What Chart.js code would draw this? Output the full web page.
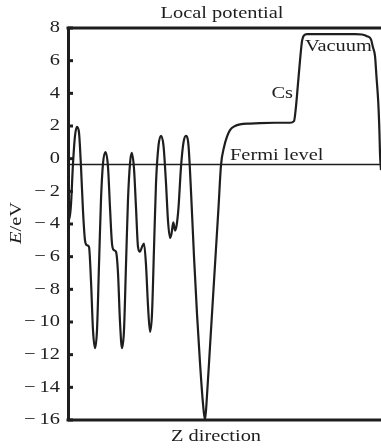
<!DOCTYPE html>
<html>
<head>
<meta charset="utf-8">
<script src="https://cdn.jsdelivr.net/npm/chart.js@4.4.1/dist/chart.umd.min.js"></script>
<style>
  html, body { margin: 0; padding: 0; background: #fff; }
  #wrap { width: 381px; height: 448px; position: relative; }
</style>
</head>
<body>
<div id="wrap"><canvas id="chart"></canvas></div>
<script>
// local potential along Z (arbitrary position units), energy in eV
const zPos = [0, 1.5, 3, 5, 7, 9, 11, 13, 15, 17, 19, 21, 23, 25, 27, 29, 31, 33, 35, 37.5,
  40, 42, 44, 46, 48, 50, 52, 54, 56, 58, 60, 62, 63.7, 66, 68, 70, 72, 74, 76, 78,
  80, 82, 84, 86, 88, 90.5, 93, 95.5, 98, 100, 102, 103.5, 105.3, 107, 108.7, 110.5, 113, 115.5, 118, 120.5,
  123, 126, 129, 132, 135, 137, 139, 142, 145, 148, 150.5, 153, 156, 159, 162, 167, 172, 182, 192, 207,
  222, 226, 228, 230, 232, 234, 236, 239, 262, 287, 294, 299, 303, 305, 307, 308.5, 310.3, 311.5, 312, 313];
const energy = [-2.3, -3.7, -2.8, -0.3, 1.4, 1.95, 1.6, -0.5, -3.2, -5.0, -5.3, -5.4, -7.5, -10.5, -11.6, -10.5, -6.5, -2.5, -0.3, 0.4,
  -0.5, -3.0, -5.2, -5.6, -5.7, -7.0, -10.0, -11.6, -10.5, -6.5, -2.5, -0.3, 0.35, -0.6, -3.0, -5.4, -5.7, -5.4, -5.2, -6.5,
  -9.0, -10.6, -9.5, -5.5, -1.5, 0.8, 1.4, 0.8, -1.5, -3.8, -4.85, -4.6, -3.9, -4.4, -4.05, -3.0, -0.5, 1.0, 1.4, 0.8,
  -2.0, -6.0, -9.5, -12.5, -15.0, -16, -14.5, -11.5, -8.5, -5.5, -3.0, -0.4, 0.7, 1.35, 1.75, 2.0, 2.1, 2.15, 2.18, 2.2,
  2.2, 2.3, 3.2, 4.6, 6.0, 7.2, 7.55, 7.63, 7.63, 7.63, 7.6, 7.5, 7.3, 6.8, 6.3, 5.0, 3.4, 1.5, 0.3, -0.7];
const fermiZ = [0, 313];
const fermiE = [-0.35, -0.35];
const labelTexts = ['Vacuum', 'Cs', 'Fermi level'];
const labelZ = [237, 225, 162];
const labelE = [6.84, 3.96, 0.2];
const labelAlign = ['left', 'right', 'left'];

const ink = '#1e1e1e';
const serif = '"Liberation Serif", "Times New Roman", serif';
const stretch = 1.2;

const curve = zPos.map((z, i) => ({ x: z, y: energy[i] }));
const fermi = fermiZ.map((z, i) => ({ x: z, y: fermiE[i] }));

// text drawn a bit wider than the stock font, like the source figure
function wideText(ctx, s, x, y, align) {
  ctx.save();
  ctx.translate(x, y);
  ctx.scale(stretch, 1);
  ctx.textAlign = align;
  ctx.fillText(s, 0, 0);
  ctx.restore();
}

const tickText = v => (v < 0 ? '\u2212\u2009' + Math.abs(v) : String(v));

// frame, inner ticks and text labels
const decor = {
  id: 'decor',
  afterDraw(chart) {
    const { ctx, chartArea: a, scales } = chart;
    const ys = scales.y, xs = scales.x;
    ctx.save();
    ctx.strokeStyle = ink;
    ctx.lineWidth = 3;
    ctx.beginPath();
    ctx.moveTo(a.left - 1.5, a.top);
    ctx.lineTo(a.right, a.top);
    ctx.stroke();
    ctx.beginPath();
    ctx.moveTo(a.left - 1.5, a.bottom);
    ctx.lineTo(a.right, a.bottom);
    ctx.stroke();

    ctx.fillStyle = ink;
    ctx.font = '17px ' + serif;
    ctx.textBaseline = 'middle';
    ys.ticks.forEach(t => {
      const py = ys.getPixelForValue(t.value);
      ctx.beginPath();
      ctx.moveTo(a.left, py);
      ctx.lineTo(a.left + 5, py);
      ctx.stroke();
      wideText(ctx, tickText(t.value), a.left - 8, py, 'right');
    });

    labelTexts.forEach((s, i) => {
      wideText(ctx, s, xs.getPixelForValue(labelZ[i]), ys.getPixelForValue(labelE[i]), labelAlign[i]);
    });

    wideText(ctx, 'Local potential', 222, 14, 'center');
    wideText(ctx, 'Z direction', 216, 437, 'center');

    // y title: italic E + /eV, rotated
    ctx.translate(17, 223);
    ctx.rotate(-Math.PI / 2);
    ctx.scale(stretch, 1);
    ctx.font = 'italic 17px ' + serif;
    const wE = ctx.measureText('E').width;
    ctx.font = '17px ' + serif;
    const wR = ctx.measureText('/eV').width;
    const x0 = -(wE + wR) / 2;
    ctx.textAlign = 'left';
    ctx.font = 'italic 17px ' + serif;
    ctx.fillText('E', x0, 0);
    ctx.font = '17px ' + serif;
    ctx.fillText('/eV', x0 + wE, 0);
    ctx.restore();
  }
};

new Chart(document.getElementById('chart'), {
  type: 'line',
  data: {
    datasets: [
      {
        data: curve,
        borderColor: ink,
        borderWidth: 2.2,
        pointRadius: 0,
        cubicInterpolationMode: 'monotone',
        fill: false
      },
      {
        data: fermi,
        borderColor: ink,
        borderWidth: 1.5,
        pointRadius: 0,
        fill: false
      }
    ]
  },
  options: {
    responsive: true,
    maintainAspectRatio: false,
    animation: false,
    layout: { padding: { top: 28, bottom: 28, left: 0, right: 0 } },
    plugins: { legend: { display: false }, tooltip: { enabled: false } },
    scales: {
      x: {
        type: 'linear',
        min: 0,
        max: 313,
        ticks: { display: false },
        grid: { display: false, drawTicks: false },
        border: { display: false },
        afterFit(s) { s.height = 0; }
      },
      y: {
        min: -16,
        max: 8,
        ticks: { stepSize: 2, display: false },
        grid: { drawOnChartArea: false, drawTicks: false },
        border: { display: true, color: ink, width: 3 },
        afterFit(s) { s.width = 68; }
      }
    }
  },
  plugins: [decor]
});
</script>
</body>
</html>
